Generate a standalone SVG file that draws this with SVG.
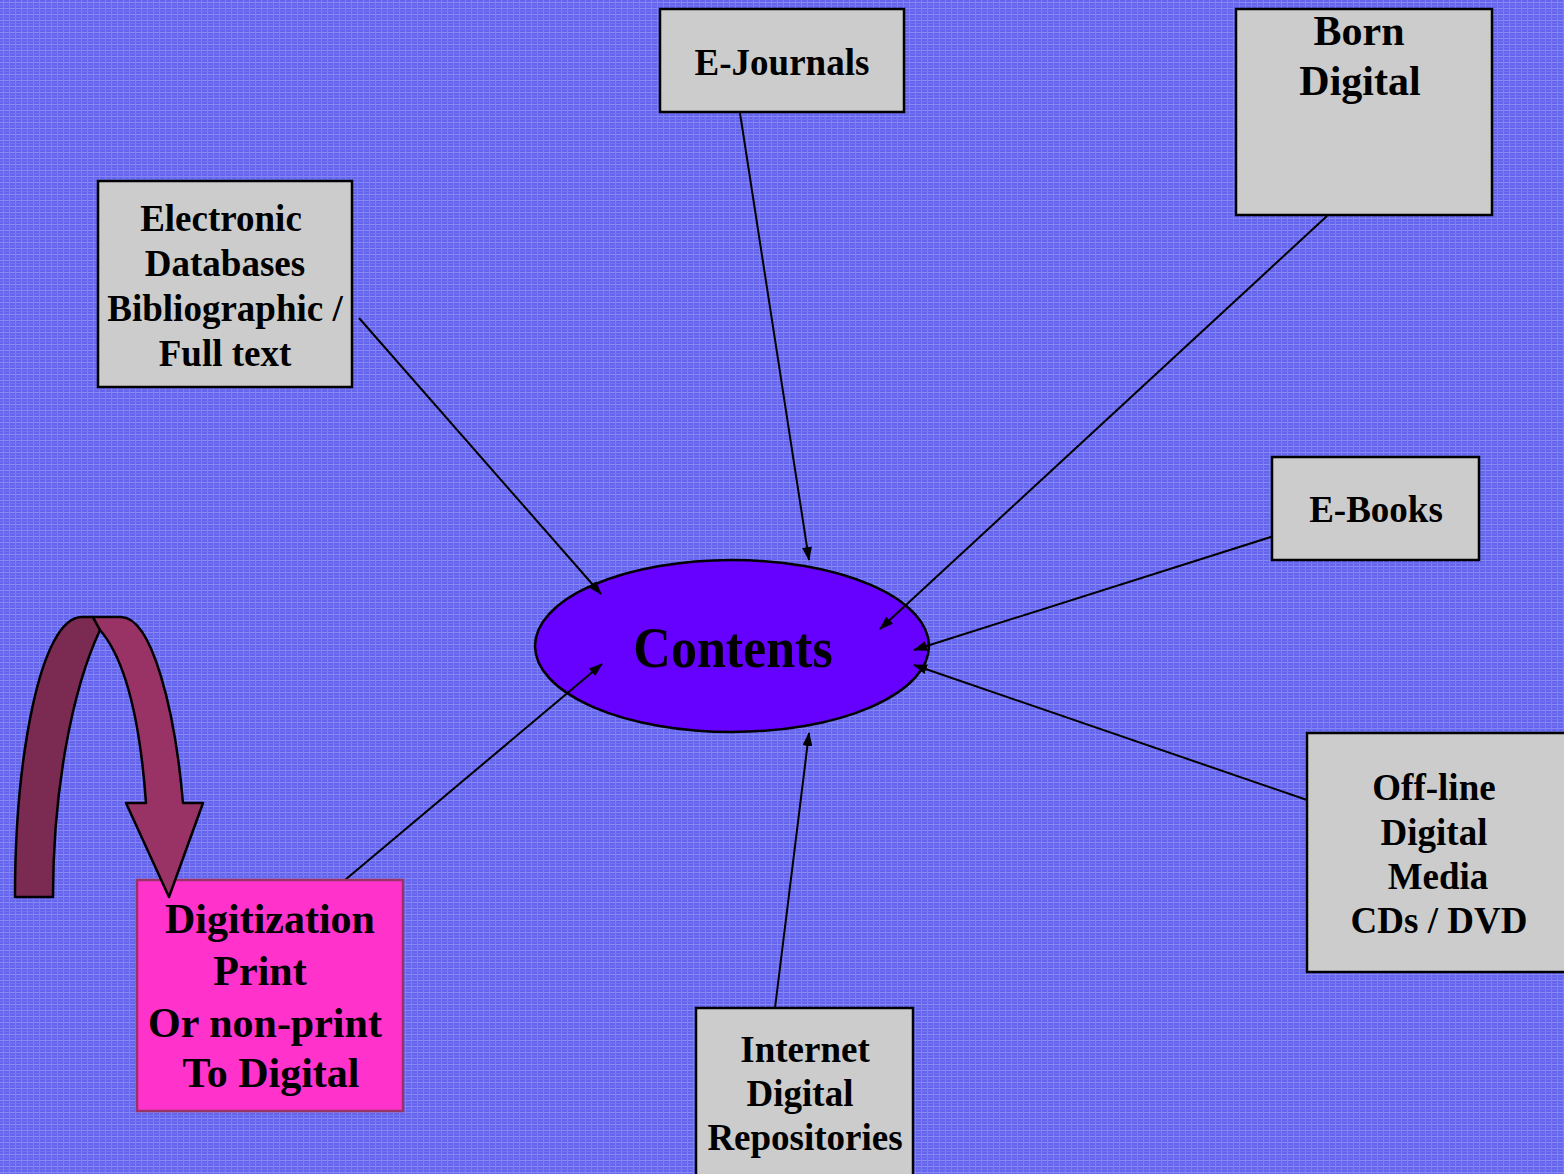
<svg xmlns="http://www.w3.org/2000/svg" width="1564" height="1174" viewBox="0 0 1564 1174">
<style>
.box{fill:#cccccc;stroke:#000;stroke-width:2.5}
.t{font-family:"Liberation Serif","Times New Roman",serif;font-weight:bold;fill:#000;text-anchor:middle}
.s37{font-size:37px}
.s42{font-size:42px}
.conn{stroke:#000;stroke-width:2;fill:none;marker-end:url(#ah)}
</style>
<defs>
<pattern id="bg" width="6" height="6" patternUnits="userSpaceOnUse">
<rect width="6" height="6" fill="#6464ec"/>
<rect x="0" y="2" width="6" height="1" fill="#8a8af4"/>
<rect x="3" y="0" width="1" height="6" fill="#8080f2"/>
<rect x="0" y="5" width="6" height="1" fill="#7474f0"/>
</pattern>
<marker id="ah" markerWidth="14" markerHeight="10" refX="13" refY="5" orient="auto" markerUnits="userSpaceOnUse">
<path d="M0,0 L14,5 L0,10 Z" fill="#000"/>
</marker>
</defs>
<rect width="1564" height="1174" fill="url(#bg)"/>

<g id="contents">
<ellipse cx="732" cy="646" rx="197" ry="86" fill="#6600ff" stroke="#000" stroke-width="2.5"/>
<text class="t" x="733" y="667" font-size="52" transform="translate(0,-66.7) scale(1,1.1)">Contents</text>
</g>

<g id="connectors">
<line class="conn" x1="740" y1="113" x2="809" y2="560"/>
<line class="conn" x1="1327" y1="216" x2="880" y2="629"/>
<line class="conn" x1="359" y1="318" x2="601" y2="594"/>
<line class="conn" x1="1296" y1="529" x2="914" y2="650"/>
<line class="conn" x1="1307" y1="800" x2="914" y2="665"/>
<line class="conn" x1="775" y1="1008" x2="809" y2="733"/>
<line class="conn" x1="345" y1="880" x2="602" y2="664"/>
</g>

<g id="ejournals">
<rect class="box" x="660" y="9" width="244" height="103"/>
<text class="t s37" x="782" y="75">E-Journals</text>
</g>

<g id="borndigital">
<rect class="box" x="1236" y="9" width="256" height="206"/>
<text class="t s42" x="1359" y="45">Born</text>
<text class="t s42" x="1360" y="95">Digital</text>
</g>

<g id="electronic">
<rect class="box" x="98" y="181" width="254" height="206"/>
<text class="t s37" x="221" y="231">Electronic</text>
<text class="t s37" x="225" y="276">Databases</text>
<text class="t s37" x="225" y="321">Bibliographic /</text>
<text class="t s37" x="225" y="366">Full text</text>
</g>

<g id="ebooks">
<rect class="box" x="1272" y="457" width="207" height="103"/>
<text class="t s37" x="1376" y="522">E-Books</text>
</g>

<g id="offline">
<rect class="box" x="1307" y="733" width="262" height="239"/>
<text class="t s37" x="1434" y="800">Off-line</text>
<text class="t s37" x="1434" y="845">Digital</text>
<text class="t s37" x="1438" y="889">Media</text>
<text class="t s37" x="1439" y="933">CDs / DVD</text>
</g>

<g id="internet">
<rect class="box" x="696" y="1008" width="217" height="180"/>
<text class="t s37" x="805" y="1062">Internet</text>
<text class="t s37" x="800" y="1106">Digital</text>
<text class="t s37" x="805" y="1150">Repositories</text>
</g>

<g id="digitization">
<rect x="137" y="880" width="266" height="231" fill="#ff33cc" stroke="#993366" stroke-width="2.5"/>
<text class="t s42" x="270" y="933">Digitization</text>
<text class="t s42" x="260" y="985">Print</text>
<text class="t s42" x="265" y="1037">Or non-print</text>
<text class="t s42" x="271" y="1087">To Digital</text>
</g>

<g id="curved-arrow" stroke="#000" stroke-width="2.5" stroke-linejoin="round">
<path d="M15,897 C15,760 40,617 82,617 L93,617 L100,630 C72,690 53,790 53,897 Z" fill="#7b2a52"/>
<path d="M93,617 L121,617 C152,617 175,710 183,803 L203,803 L169,897 L126,803 L146,803 C140,720 126,660 100,630 Z" fill="#993366"/>
</g>
</svg>
